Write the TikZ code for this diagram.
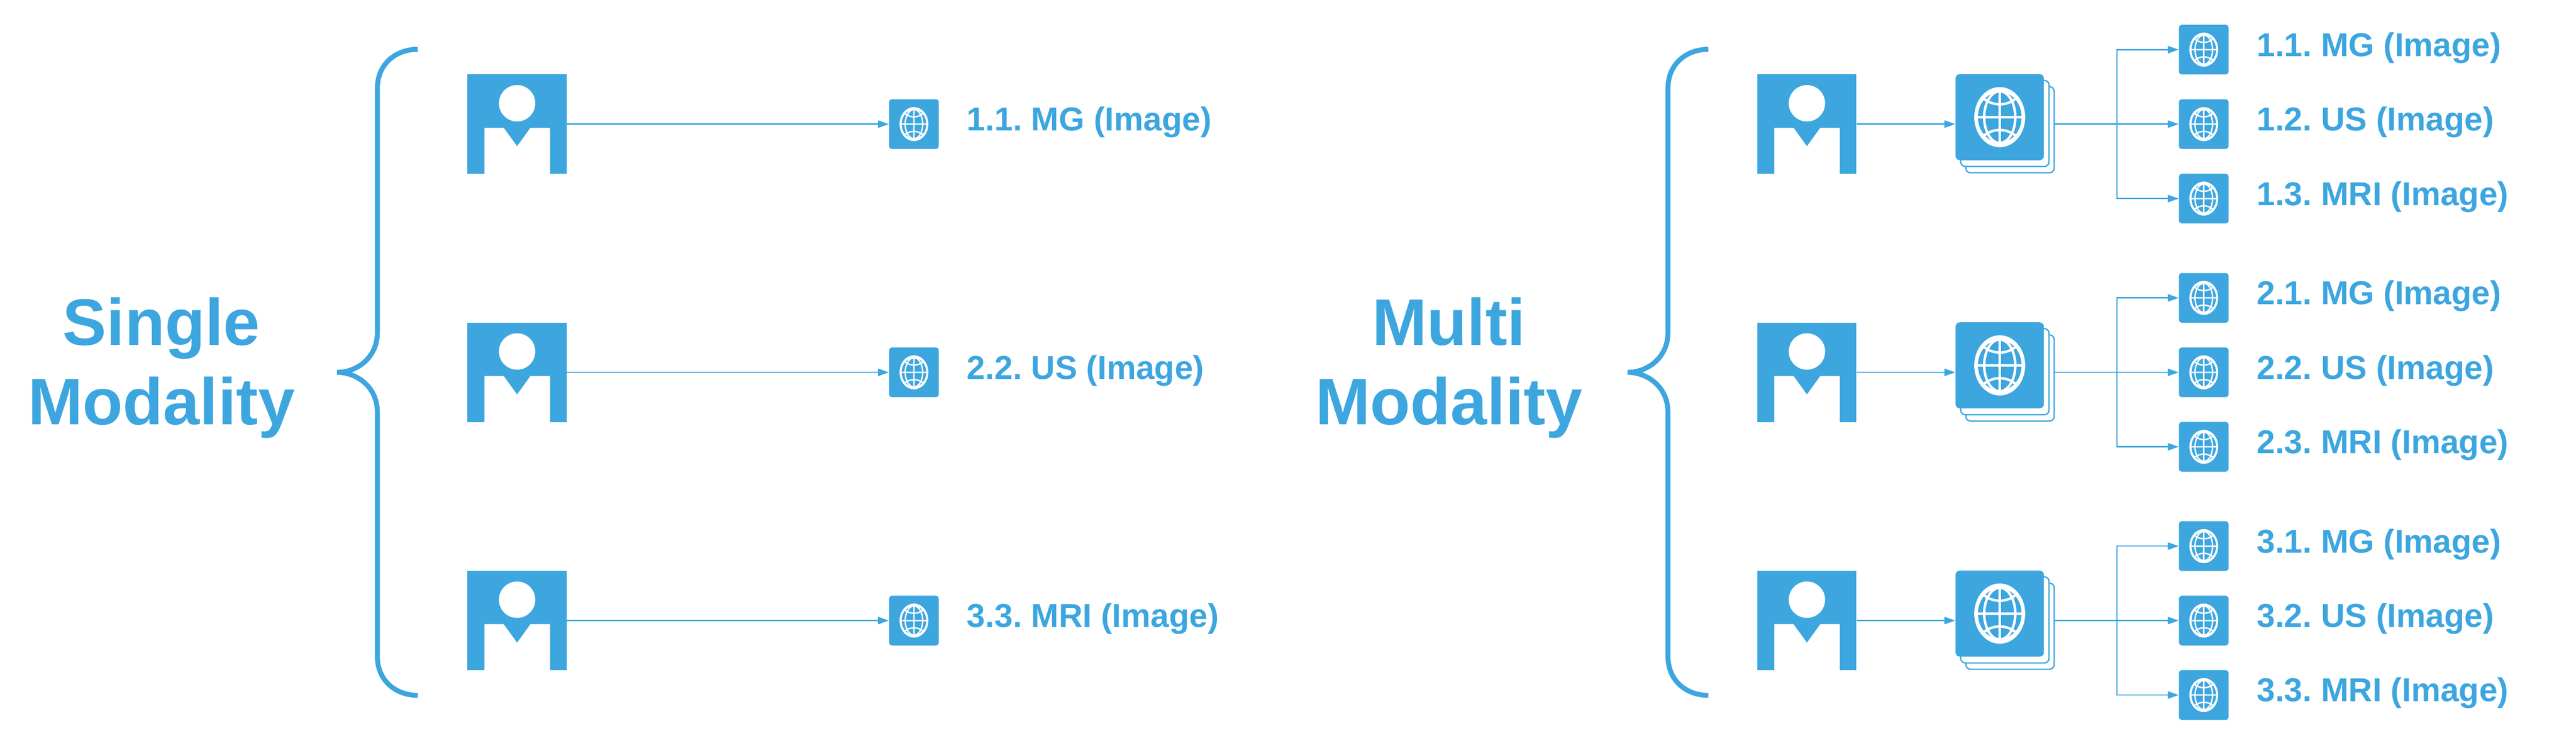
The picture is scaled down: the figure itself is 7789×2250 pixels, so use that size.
\documentclass[tikz,border=0pt]{standalone}
\usepackage{fontspec}
\setmainfont{Liberation Sans}
\usetikzlibrary{arrows.meta}

\definecolor{modblue}{HTML}{3DA6DF}

\newcommand{\globeglyph}[2]{%
  \begin{scope}[shift={(path picture bounding box.center)},shift={(-1.5,#2)},x=#1,y=-#1]
    \fill[white]   (0,0) ellipse [x radius=77,y radius=91];
    \fill[modblue] (0,0) ellipse [x radius=66,y radius=76];
    \draw[white,line width={7.5*#1}]
        (0,0) ellipse [x radius=47,y radius=78]
        (0,-80) -- (0,80)
        (-68,0) -- (68,0)
        (-48,-56) .. controls (-20,-33) and (20,-33) .. (48,-56)
        (-48,56)  .. controls (-20,33)  and (20,33)  .. (48,56);
  \end{scope}}

\tikzset{
  x=.01cm, y=-.01cm,
  conn/.style={draw=modblue,line width=.04cm,-{Triangle[length=.33cm,width=.22cm]}},
  bracestroke/.style={draw=modblue,line width=.15cm},
  personicon/.style={fill=modblue,inner sep=0,minimum size=3cm,
    path picture={
      \begin{scope}[shift={(path picture bounding box.center)}]
        \fill[white] (.5,-63) circle (55);
        \fill[white] (-98,152) -- (-98,11) -- (-40,11) -- (.5,67)
                     -- (41,11) -- (100,11) -- (100,152) -- cycle;
      \end{scope}}},
  globeicon/.style={fill=modblue,inner sep=0,minimum size=1.5cm,rounded corners=.08cm,
    path picture={\globeglyph{.00565cm}{-2.5}}},
  stackfront/.style={fill=modblue,inner sep=0,minimum width=2.67cm,minimum height=2.6cm,
    rounded corners=.13cm,
    path picture={\globeglyph{.01cm}{-3}}},
  stackback/.style={draw=modblue,fill=white,line width=.04cm,inner sep=0,
    minimum width=2.67cm,minimum height=2.6cm,rounded corners=.14cm},
  modlabel/.style={anchor=base west,inner sep=0,text=modblue,
    font=\fontsize{28.45}{34}\selectfont\bfseries\frenchspacing},
  modtitle/.style={align=center,inner sep=0,text=modblue,
    font=\fontsize{56.6}{68.3}\selectfont\bfseries},
}

\newcommand{\bracecurve}{
    (1263,149) .. controls (1200,149) and (1141,190) .. (1141,268)
    -- (1141,1005) .. controls (1141,1080) and (1080,1125) .. (1019,1125)
    (1263,2101) .. controls (1200,2101) and (1141,2060) .. (1141,1982)
    -- (1141,1245) .. controls (1141,1170) and (1080,1125) .. (1019,1125)}

\begin{document}
\begin{tikzpicture}
\useasboundingbox (0,0) rectangle (7789,2250);

\path
    ( 488,1111) node [modtitle] (single) {Single\\Modality}
    (4381,1111) node [modtitle] (multi)  {Multi\\Modality};
\draw[bracestroke] \bracecurve;
\draw[bracestroke,xshift=39cm] \bracecurve;

\path
    (1563, 375) node [personicon] (person1) {}
    (1563,1125) node [personicon] (person2) {}
    (1563,1875) node [personicon] (person3) {}
    (2763.5, 375) node [globeicon] (globe1) {}
    (2763.5,1125) node [globeicon] (globe2) {}
    (2763.5,1875) node [globeicon] (globe3) {}
    (2923, 395) node [modlabel] (label1) {1.1. MG (Image)}
    (2923,1145) node [modlabel] (label2) {2.2. US (Image)}
    (2923,1895) node [modlabel] (label3) {3.3. MRI (Image)};
\draw[conn] (person1) -- (globe1);
\draw[conn] (person2) -- (globe2);
\draw[conn] (person3) -- (globe3);

\path
    (5463, 375) node [personicon] (mperson1) {}
    (5463,1125) node [personicon] (mperson2) {}
    (5463,1875) node [personicon] (mperson3) {}
    (6077.5, 392) node [stackback]  (mstackc1) {}
    (6062  , 373) node [stackback]  (mstackb1) {}
    (6046.5, 354) node [stackfront] (mstacka1) {}
    (6077.5,1142) node [stackback]  (mstackc2) {}
    (6062  ,1123) node [stackback]  (mstackb2) {}
    (6046.5,1104) node [stackfront] (mstacka2) {}
    (6077.5,1892) node [stackback]  (mstackc3) {}
    (6062  ,1873) node [stackback]  (mstackb3) {}
    (6046.5,1854) node [stackfront] (mstacka3) {};

\path
    (6663.5, 150) node [globeicon] (mglobe11) {}
    (6663.5, 375) node [globeicon] (mglobe12) {}
    (6663.5, 600) node [globeicon] (mglobe13) {}
    (6663.5, 900) node [globeicon] (mglobe21) {}
    (6663.5,1125) node [globeicon] (mglobe22) {}
    (6663.5,1350) node [globeicon] (mglobe23) {}
    (6663.5,1650) node [globeicon] (mglobe31) {}
    (6663.5,1875) node [globeicon] (mglobe32) {}
    (6663.5,2100) node [globeicon] (mglobe33) {};

\path
    (6823, 170) node [modlabel] (mlabel11) {1.1. MG (Image)}
    (6823, 395) node [modlabel] (mlabel12) {1.2. US (Image)}
    (6823, 620) node [modlabel] (mlabel13) {1.3. MRI (Image)}
    (6823, 920) node [modlabel] (mlabel21) {2.1. MG (Image)}
    (6823,1145) node [modlabel] (mlabel22) {2.2. US (Image)}
    (6823,1370) node [modlabel] (mlabel23) {2.3. MRI (Image)}
    (6823,1670) node [modlabel] (mlabel31) {3.1. MG (Image)}
    (6823,1895) node [modlabel] (mlabel32) {3.2. US (Image)}
    (6823,2120) node [modlabel] (mlabel33) {3.3. MRI (Image)};

\coordinate (mbus1) at (6401, 375);
\coordinate (mbus2) at (6401,1125);
\coordinate (mbus3) at (6401,1875);

\draw[conn] (mperson1) -- (mperson1 -| mstacka1.west);
\draw[conn] (mperson2) -- (mperson2 -| mstacka2.west);
\draw[conn] (mperson3) -- (mperson3 -| mstacka3.west);

\draw[conn] (mperson1 -| mstackc1.east) -- (mglobe12);
\draw[conn] (mperson2 -| mstackc2.east) -- (mglobe22);
\draw[conn] (mperson3 -| mstackc3.east) -- (mglobe32);

\draw[conn] (mbus1) |- (mglobe11);
\draw[conn] (mbus1) |- (mglobe13);
\draw[conn] (mbus2) |- (mglobe21);
\draw[conn] (mbus2) |- (mglobe23);
\draw[conn] (mbus3) |- (mglobe31);
\draw[conn] (mbus3) |- (mglobe33);
\end{tikzpicture}
\end{document}
